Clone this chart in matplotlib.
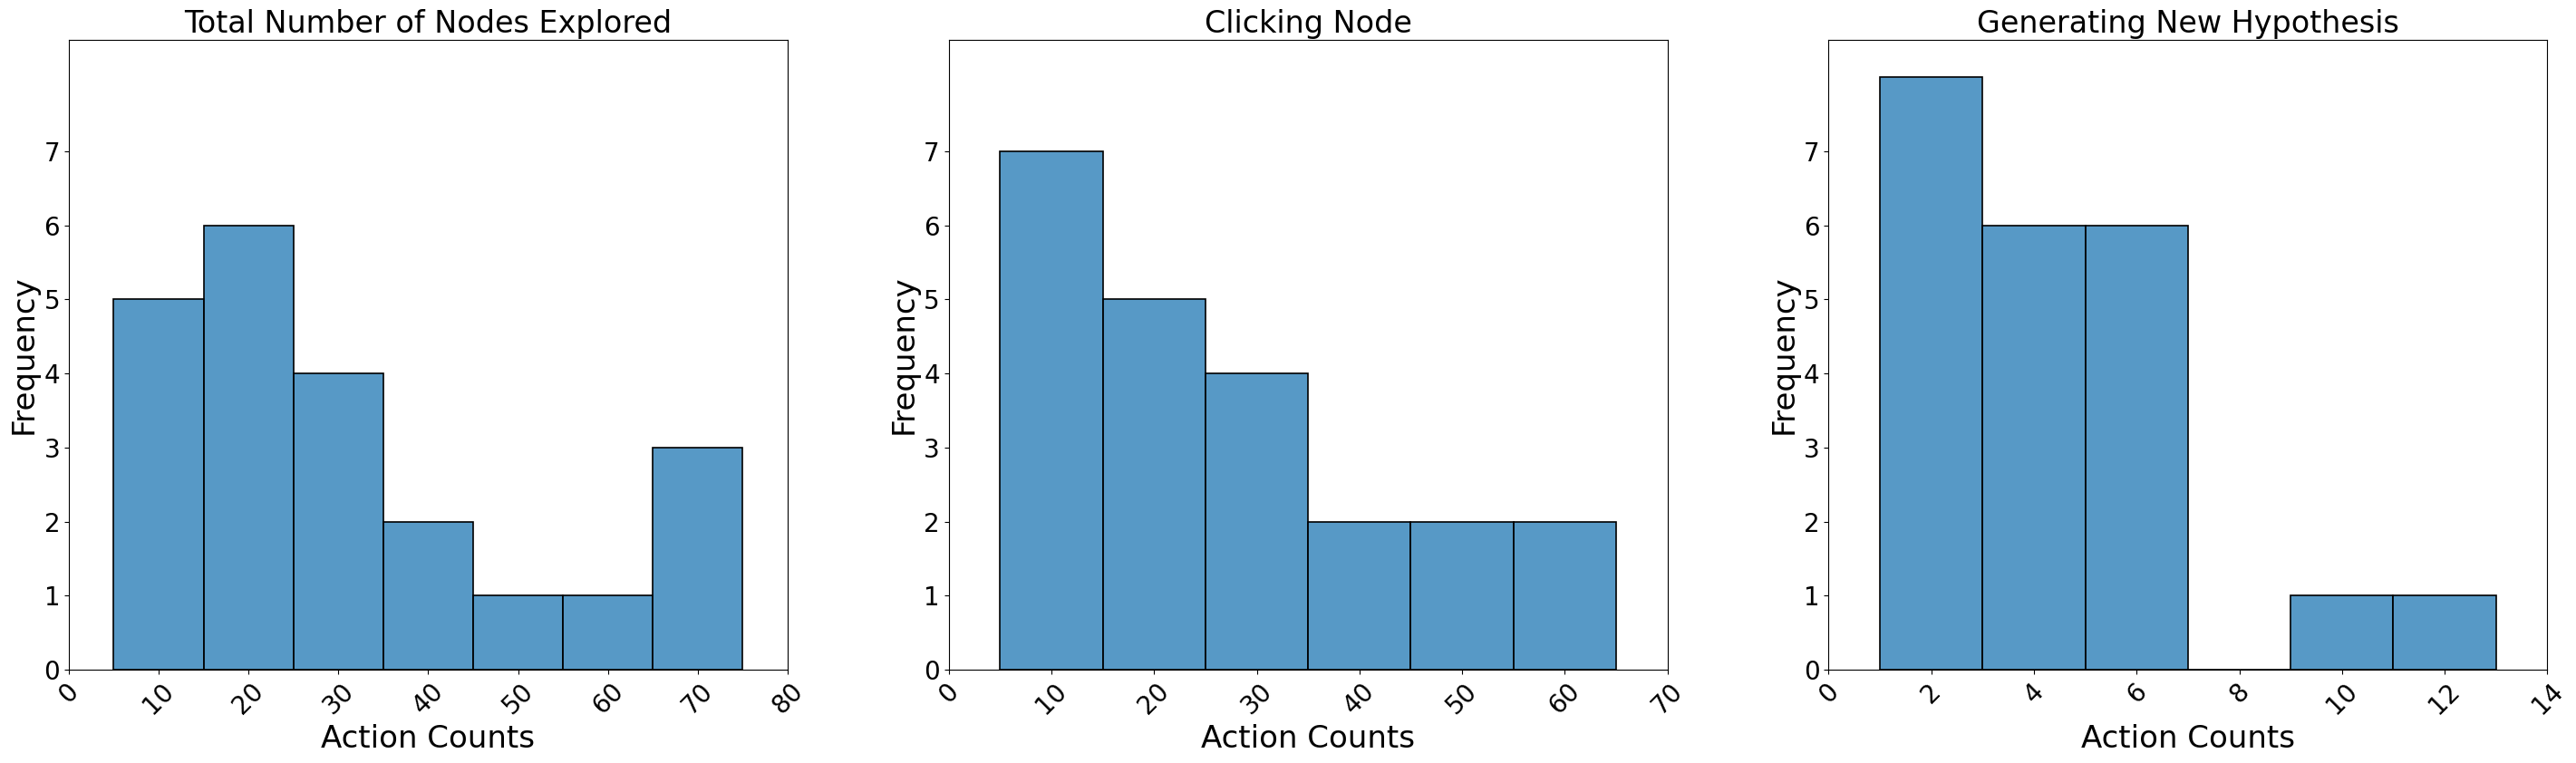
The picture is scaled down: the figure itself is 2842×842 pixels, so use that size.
import numpy as np
import matplotlib.pyplot as plt
from matplotlib.colors import to_rgba

# Histogram bins and counts
titles = ['Total Number of Nodes Explored', 'Clicking Node', 'Generating New Hypothesis']

nodes_edges = [5, 15, 25, 35, 45, 55, 65, 75]
nodes_counts = [5, 6, 4, 2, 1, 1, 3]

click_edges = [5, 15, 25, 35, 45, 55, 65]
click_counts = [7, 5, 4, 2, 2, 2]

hyp_edges = [1, 3, 5, 7, 9, 11, 13]
hyp_counts = [8, 6, 6, 0, 1, 1]

xlims = [(0, 80), (0, 70), (0, 14)]

panels = [(nodes_edges, nodes_counts), (click_edges, click_counts), (hyp_edges, hyp_counts)]

fig, axes = plt.subplots(1, 3, figsize=(28.42, 8.42), dpi=100)
plt.subplots_adjust(left=0.0267, right=0.9889, bottom=0.1223, top=0.9474, wspace=0.2238)

face = to_rgba('#1f77b4', 0.75)

for ax, (edges, counts), title, xl in zip(axes, panels, titles, xlims):
    edges = np.array(edges)
    ax.hist(edges[:-1], bins=edges, weights=counts, facecolor=face, edgecolor='black', linewidth=1.2)
    ax.set_title(title, fontsize=24)
    ax.set_xlabel('Action Counts', fontsize=24.5)
    ax.set_ylabel('Frequency', fontsize=24.5)
    ax.set_xlim(xl)
    ax.set_ylim(0, 8.5)
    ax.set_yticks(range(8))
    ax.tick_params(axis='both', labelsize=20)
    ax.tick_params(axis='x', labelrotation=45)

plt.savefig('out.png')
